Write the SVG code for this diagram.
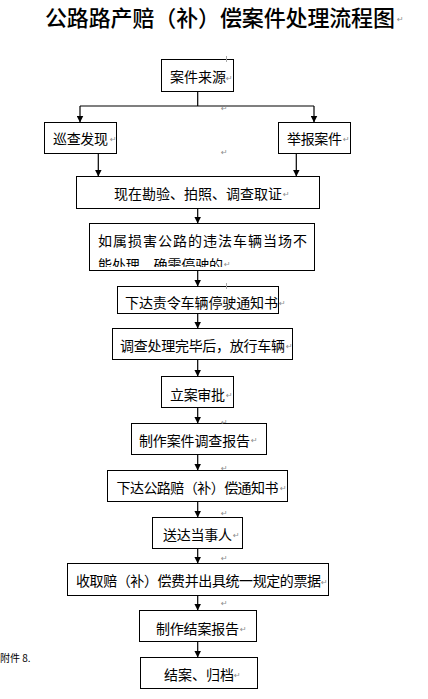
<svg xmlns="http://www.w3.org/2000/svg" width="428" height="699" viewBox="0 0 428 699">
<style>
.box{fill:#fff;stroke:#000;stroke-width:1}
.t{font-family:"Noto Sans CJK SC","Noto Sans CJK JP",sans-serif;font-size:14px;fill:#000;dominant-baseline:central}
.title{font-family:"Noto Sans CJK SC","Noto Sans CJK JP",sans-serif;font-size:22px;font-weight:500;fill:#000;dominant-baseline:central}
.ln{stroke:#000;stroke-width:1.2;fill:none}
.rm{font-family:"DejaVu Sans",sans-serif;font-size:8px;fill:#8c8c8c;dominant-baseline:central}
.small{font-family:"Noto Sans CJK SC",sans-serif;font-size:10px;fill:#000;dominant-baseline:central}
</style>
<defs>
<marker id="ah" markerUnits="userSpaceOnUse" markerWidth="7" markerHeight="7" refX="7" refY="3.5" orient="auto">
<path d="M0,0 L7,3.5 L0,7 z" fill="#000"/>
</marker>
<clipPath id="clip5"><rect x="90" y="224" width="224" height="43"/></clipPath>
</defs>

<text class="title" x="45" y="16" textLength="350" lengthAdjust="spacing">公路路产赔（补）偿案件处理流程图</text>

<g id="connectors">
<path class="ln" d="M197.7,91.5 V106 M80,106 H314"/>
<path class="ln" d="M80,106 V122.5" marker-end="url(#ah)"/>
<path class="ln" d="M314,106 V122.5" marker-end="url(#ah)"/>
<path class="ln" d="M98.3,153.5 V176.5" marker-end="url(#ah)"/>
<path class="ln" d="M296.3,153.5 V176.5" marker-end="url(#ah)"/>
<path class="ln" d="M197.7,208.5 V223.5" marker-end="url(#ah)"/>
<path class="ln" d="M197.7,270.5 V286.5" marker-end="url(#ah)"/>
<path class="ln" d="M197.7,313.5 V328.5" marker-end="url(#ah)"/>
<path class="ln" d="M197.7,359.5 V376.5" marker-end="url(#ah)"/>
<path class="ln" d="M197.7,407.5 V423.5" marker-end="url(#ah)"/>
<path class="ln" d="M197.7,454.5 V470.5" marker-end="url(#ah)"/>
<path class="ln" d="M197.7,501.5 V517.5" marker-end="url(#ah)"/>
<path class="ln" d="M197.7,548.5 V563.5" marker-end="url(#ah)"/>
<path class="ln" d="M197.7,595.5 V610.5" marker-end="url(#ah)"/>
<path class="ln" d="M197.7,641.5 V657.5" marker-end="url(#ah)"/>
</g>

<g id="n1"><rect class="box" x="161.5" y="59.5" width="72" height="32"/><text class="t" x="170" y="76" textLength="56" lengthAdjust="spacing">案件来源</text></g>
<g id="n2"><rect class="box" x="44.5" y="122.5" width="72" height="31"/><text class="t" x="53" y="138" textLength="55" lengthAdjust="spacing">巡查发现</text></g>
<g id="n3"><rect class="box" x="278.5" y="122.5" width="72" height="31"/><text class="t" x="287" y="138" textLength="55" lengthAdjust="spacing">举报案件</text></g>
<g id="n4"><rect class="box" x="76.5" y="176.5" width="243" height="32"/><text class="t" x="114" y="192.5" textLength="168" lengthAdjust="spacing">现在勘验、拍照、调查取证</text></g>
<g id="n5"><rect class="box" x="89.5" y="223.5" width="225" height="47"/>
<text class="t" x="98" y="240" textLength="209" lengthAdjust="spacing">如属损害公路的违法车辆当场不</text>
<g clip-path="url(#clip5)"><text class="t" x="98" y="264" textLength="125" lengthAdjust="spacing">能处理，确需停驶的</text></g></g>
<g id="n6"><rect class="box" x="117.5" y="286.5" width="161" height="27"/><text class="t" x="125" y="301.5" textLength="153" lengthAdjust="spacing">下达责令车辆停驶通知书</text></g>
<g id="n7"><rect class="box" x="112.5" y="328.5" width="180" height="31"/><text class="t" x="120" y="345" textLength="165" lengthAdjust="spacing">调查处理完毕后，放行车辆</text></g>
<g id="n8"><rect class="box" x="161.5" y="376.5" width="72" height="31"/><text class="t" x="170" y="394" textLength="55" lengthAdjust="spacing">立案审批</text></g>
<g id="n9"><rect class="box" x="131.5" y="423.5" width="135" height="31"/><text class="t" x="139" y="439.5" textLength="111" lengthAdjust="spacing">制作案件调查报告</text></g>
<g id="n10"><rect class="box" x="107.5" y="470.5" width="180" height="31"/><text class="t" x="116.5" y="487" textLength="162" lengthAdjust="spacing">下达公路赔（补）偿通知书</text></g>
<g id="n11"><rect class="box" x="152.5" y="517.5" width="90" height="31"/><text class="t" x="163" y="533.5" textLength="69" lengthAdjust="spacing">送达当事人</text></g>
<g id="n12"><rect class="box" x="67.5" y="563.5" width="261" height="32"/><text class="t" x="76" y="580" textLength="245" lengthAdjust="spacing">收取赔（补）偿费并出具统一规定的票据</text></g>
<g id="n13"><rect class="box" x="139.5" y="610.5" width="117" height="31"/><text class="t" x="156" y="627.5" textLength="83" lengthAdjust="spacing">制作结案报告</text></g>
<g id="n14"><rect class="box" x="140.5" y="657.5" width="117" height="31"/><text class="t" x="164" y="673.5" textLength="70" lengthAdjust="spacing">结案、归档</text></g>

<text class="small" x="0" y="657">附件 8.</text>

<g id="marks">
<text class="rm" x="397" y="19">↵</text>
<text class="rm" x="226" y="78">↵</text>
<text class="rm" x="110" y="139">↵</text>
<text class="rm" x="343" y="139">↵</text>
<text class="rm" x="283" y="194">↵</text>
<text class="rm" x="224" y="264">↵</text>
<text class="rm" x="279" y="303">↵</text>
<text class="rm" x="286" y="346">↵</text>
<text class="rm" x="226" y="395">↵</text>
<text class="rm" x="251" y="440">↵</text>
<text class="rm" x="280" y="488">↵</text>
<text class="rm" x="233" y="535">↵</text>
<text class="rm" x="321" y="582">↵</text>
<text class="rm" x="240" y="629">↵</text>
<text class="rm" x="234" y="675">↵</text>
<text class="rm" x="221" y="108">↵</text>
<text class="rm" x="221" y="152">↵</text>
<text class="rm" x="221" y="422">↵</text>
<text class="rm" x="221" y="468">↵</text>
<text class="rm" x="221" y="513">↵</text>
<text class="rm" x="221" y="558">↵</text>
<text class="rm" x="221" y="603">↵</text>
<path d="M226.5,56 V62 M226.5,283 V289" stroke="#aaa" stroke-width="1"/>
</g>
</svg>
